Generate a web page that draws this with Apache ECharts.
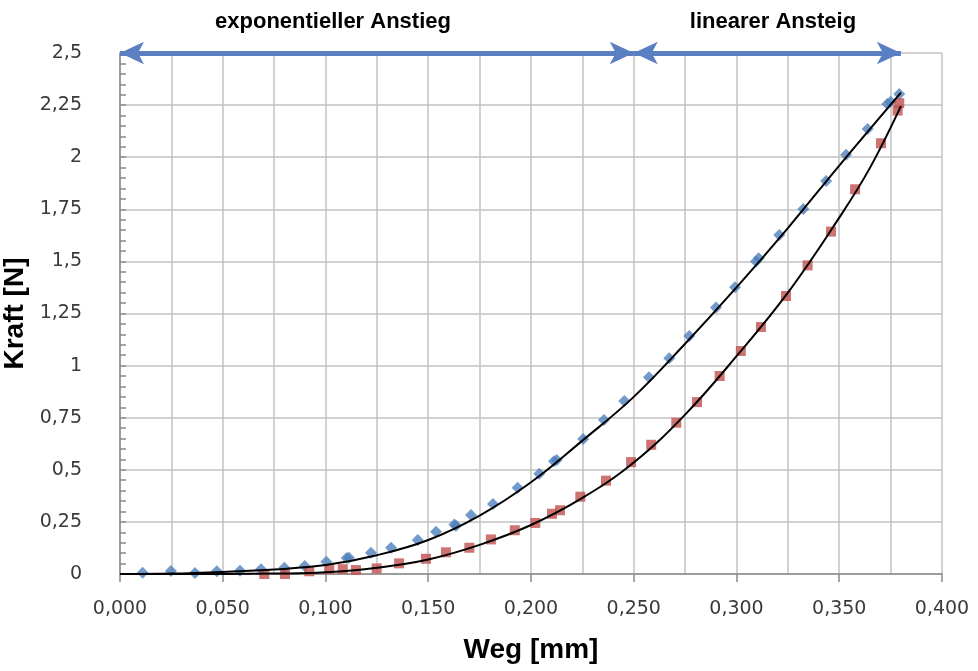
<!DOCTYPE html>
<html>
<head>
<meta charset="utf-8">
<script src="https://cdn.jsdelivr.net/npm/echarts@6/dist/echarts.min.js"></script>
<style>html,body{margin:0;padding:0;background:#fff}#c{width:978px;height:671px}</style>
</head>
<body>
<div id="c"></div>
<script>
// Belastung (blaue Rauten)
const loadX = [0.0110,0.0248,0.0365,0.0471,0.0584,0.0686,0.0800,0.0899,0.1004,0.1103,0.1114,0.1221,0.1319,0.1449,0.1538,0.1627,0.1635,0.1708,0.1815,0.1935,0.2040,0.2112,0.2125,0.2254,0.2355,0.2454,0.2574,0.2673,0.2770,0.2900,0.2993,0.3095,0.3108,0.3208,0.3325,0.3436,0.3533,0.3638,0.3734,0.3750,0.3792];
const loadY = [0.006,0.014,0.005,0.013,0.016,0.023,0.030,0.038,0.059,0.077,0.078,0.102,0.126,0.163,0.203,0.238,0.232,0.283,0.336,0.414,0.481,0.541,0.547,0.648,0.739,0.830,0.944,1.035,1.142,1.279,1.376,1.499,1.515,1.627,1.751,1.886,2.012,2.135,2.255,2.266,2.303];
// Entlastung (rote Quadrate)
const unloadX = [0.0702,0.0803,0.0921,0.1018,0.1084,0.1148,0.1249,0.1358,0.1489,0.1586,0.1700,0.1805,0.1921,0.2021,0.2102,0.2141,0.2240,0.2365,0.2487,0.2585,0.2707,0.2808,0.2918,0.3021,0.3119,0.3241,0.3346,0.3460,0.3577,0.3703,0.3784,0.3792];
const unloadY = [0.0,0.0,0.013,0.023,0.023,0.019,0.027,0.051,0.073,0.104,0.126,0.166,0.210,0.245,0.289,0.306,0.371,0.448,0.537,0.620,0.726,0.825,0.950,1.070,1.185,1.334,1.481,1.643,1.846,2.067,2.224,2.259];
// Trendlinien
const fitLoadX = [0,0.025,0.05,0.075,0.1,0.125,0.15,0.175,0.2,0.225,0.25,0.275,0.3,0.325,0.35,0.38];
const fitLoadY = [0,0.002,0.01,0.022,0.043,0.09,0.163,0.28,0.44,0.64,0.85,1.105,1.375,1.66,1.96,2.31];
const fitUnloadX = [0,0.05,0.075,0.1,0.125,0.15,0.175,0.2,0.225,0.25,0.275,0.3,0.325,0.35,0.365,0.38];
const fitUnloadY = [0,0,0.002,0.008,0.03,0.07,0.14,0.235,0.365,0.535,0.765,1.045,1.35,1.71,1.95,2.245];
// Bereiche (Pfeile)
const phaseNames = ['exponentieller Anstieg','linearer Ansteig'];
const phaseStart = [0, 0.25];
const phaseEnd = [0.25, 0.38];
const arrowLevel = 2.5;
// Achsenbeschriftungen
const xTickValues = [0,0.05,0.1,0.15,0.2,0.25,0.3,0.35,0.4];
const xTickLabels = ['0,000','0,050','0,100','0,150','0,200','0,250','0,300','0,350','0,400'];
const yTickValues = [0,0.25,0.5,0.75,1,1.25,1.5,1.75,2,2.25,2.5];
const yTickLabels = ['0','0,25','0,5','0,75','1','1,25','1,5','1,75','2','2,25','2,5'];

const zip = (a,b) => a.map((v,i)=>[v,b[i]]);
const lookup = (vals, labs) => v => { const i = vals.findIndex(t => Math.abs(t - v) < 1e-6); return i >= 0 ? labs[i] : ''; };

const chart = echarts.init(document.getElementById('c'));
const gridCol = '#C2C2C2';
const axisCol = '#8A8A8A';
chart.setOption({
  animation: false,
  grid: {left: 120, right: 36, top: 53, bottom: 97, containLabel: false, outerBoundsMode: 'none'},
  xAxis: {
    type: 'value', min: 0, max: 0.4, interval: 0.05,
    name: 'Weg [mm]', nameLocation: 'middle', nameGap: 62,
    nameTextStyle: {fontFamily: 'Liberation Sans', fontWeight: 'bold', fontSize: 28, color: '#000'},
    axisLine: {show: true, lineStyle: {color: axisCol, width: 1.5}},
    axisTick: {show: true, inside: false, length: 8, lineStyle: {color: axisCol, width: 1.5}},
    minorTick: {show: false, splitNumber: 2},
    splitLine: {show: true, lineStyle: {color: gridCol, width: 1.5}},
    minorSplitLine: {show: true, lineStyle: {color: gridCol, width: 1.5}},
    axisLabel: {formatter: lookup(xTickValues, xTickLabels), margin: 26, fontFamily: 'DejaVu Sans', fontSize: 19, color: '#3a3a3a'}
  },
  yAxis: {
    type: 'value', min: 0, max: 2.5, interval: 0.25,
    name: 'Kraft [N]', nameLocation: 'middle', nameGap: 82,
    nameTextStyle: {fontFamily: 'Liberation Sans', fontWeight: 'bold', fontSize: 28, color: '#000'},
    axisLine: {show: true, lineStyle: {color: axisCol, width: 1.5}},
    axisTick: {show: true, inside: true, length: 6, lineStyle: {color: axisCol, width: 1.5}},
    minorTick: {show: true, splitNumber: 5, length: 6, lineStyle: {color: axisCol, width: 1.5}},
    splitLine: {show: true, lineStyle: {color: gridCol, width: 1.5}},
    axisLabel: {formatter: lookup(yTickValues, yTickLabels), margin: 38, fontFamily: 'DejaVu Sans', fontSize: 19, color: '#3a3a3a'}
  },
  graphic: [
    {type: 'text', x: 333, y: 22, style: {text: phaseNames[0], align: 'center', verticalAlign: 'middle', font: 'bold 22px "Liberation Sans"', fill: '#000'}},
    {type: 'text', x: 773, y: 22, style: {text: phaseNames[1], align: 'center', verticalAlign: 'middle', font: 'bold 22px "Liberation Sans"', fill: '#000'}}
  ],
  series: [
    {type: 'line', name: 'fitLoad', data: zip(fitLoadX, fitLoadY), smooth: 0.4, showSymbol: false, symbol: 'none', clip: false, lineStyle: {color: '#000', width: 2}, z: 3,
      markLine: {
        silent: true, animation: false,
        symbol: ['arrow','arrow'], symbolSize: [17, 24],
        lineStyle: {color: '#5A7FC2', width: 5, type: 'solid'},
        label: {show: false},
        emphasis: {disabled: true},
        data: phaseStart.map((s,i)=>[{coord: [s, arrowLevel]}, {coord: [phaseEnd[i], arrowLevel]}])
      }
    },
    {type: 'line', name: 'fitUnload', data: zip(fitUnloadX, fitUnloadY), smooth: 0.4, showSymbol: false, symbol: 'none', lineStyle: {color: '#000', width: 2}, z: 3},
    {type: 'scatter', name: 'Belastung', data: zip(loadX, loadY), symbol: 'diamond', symbolSize: 12, itemStyle: {color: '#4F81BD'}, z: 2},
    {type: 'scatter', name: 'Entlastung', data: zip(unloadX, unloadY), symbol: 'rect', symbolSize: 10, itemStyle: {color: '#C0504D'}, z: 2}
  ]
});
</script>
</body>
</html>
